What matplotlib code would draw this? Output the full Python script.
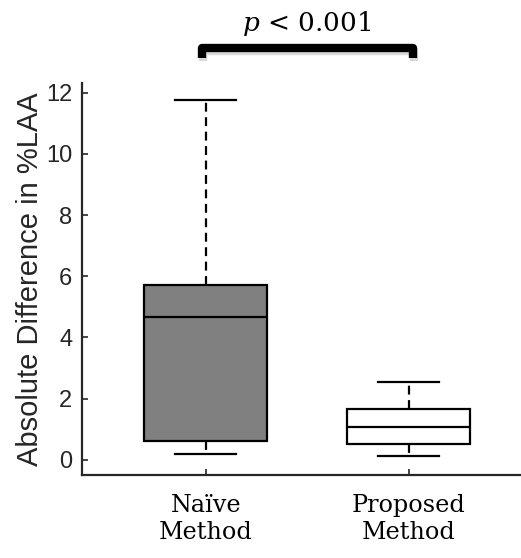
import matplotlib
matplotlib.use("Agg")
import matplotlib.pyplot as plt
import matplotlib.transforms as mtransforms
import matplotlib.patheffects as pe

categories = ["Naïve\nMethod", "Proposed\nMethod"]
whisker_low = [0.18, 0.12]
q1 = [0.62, 0.52]
median = [4.66, 1.08]
q3 = [5.70, 1.66]
whisker_high = [11.78, 2.55]
box_colors = ["#808080", "#ffffff"]
yticks = [0, 2, 4, 6, 8, 10, 12]
p_text = r"$p$ < 0.001"

plt.rcParams['mathtext.fontset'] = 'dejavuserif'

fig = plt.figure(figsize=(5.21, 5.58), dpi=100)
ax = fig.add_axes([82/521, (558-475)/558, 1 - 82/521 + 0.01, (475-83)/558])

stats = []
for i in range(len(categories)):
    stats.append(dict(whislo=whisker_low[i], q1=q1[i], med=median[i], q3=q3[i],
                      whishi=whisker_high[i], fliers=[], label=categories[i]))

positions = list(range(1, len(categories) + 1))
bp = ax.bxp(stats, positions=positions, widths=0.605, patch_artist=True,
            showfliers=False,
            boxprops=dict(linewidth=1.6, edgecolor="black"),
            medianprops=dict(color="black", linewidth=1.6),
            whiskerprops=dict(color="black", linewidth=1.6, linestyle=(0, (4, 2.5))),
            capprops=dict(color="black", linewidth=1.6),
            capwidths=0.3)
for patch, c in zip(bp["boxes"], box_colors):
    patch.set_facecolor(c)

ax.set_xlim(0.39, 2.58)
ax.set_ylim(-0.5, 12.32)
ax.set_yticks(yticks)
ax.set_xticks(positions)
ax.set_xticklabels(categories, fontfamily="DejaVu Serif", fontsize=17.2,
                   linespacing=1.22)
for lbl in ax.get_yticklabels():
    lbl.set_fontfamily("Liberation Sans")
    lbl.set_fontsize(17)
    lbl.set_color("#262626")
ax.set_ylabel("Absolute Difference in %LAA", fontfamily="Liberation Sans",
              fontsize=21, color="#262626", labelpad=1.5)
ax.tick_params(axis="both", direction="in", length=4, width=1.2, color="#262626")
ax.tick_params(axis="y", pad=7)
ax.tick_params(axis="x", pad=14)
for s in ["top", "right"]:
    ax.spines[s].set_visible(False)
for s in ["left", "bottom"]:
    ax.spines[s].set_linewidth(1.6)
    ax.spines[s].set_color("#262626")

# significance bracket
trans = mtransforms.blended_transform_factory(ax.transData, fig.transFigure)
x0, x1 = positions[0] - 0.02, positions[1] + 0.02
ybar, yleg = (558 - 48) / 558, (558 - 58) / 558
ax.plot([x0, x0, x1, x1], [yleg, ybar, ybar, yleg], transform=trans,
        color="black", linewidth=6, solid_joinstyle="round", solid_capstyle="butt",
        clip_on=False,
        path_effects=[pe.SimpleLineShadow(offset=(1, -2.5), shadow_color="gray", alpha=0.3),
                      pe.Normal()])
ax.text((positions[0] + positions[1]) / 2, (558 - 23) / 558, p_text, transform=trans,
        ha="center", va="center", fontsize=19, fontfamily="DejaVu Serif")

fig.savefig("out.png", dpi=100)
